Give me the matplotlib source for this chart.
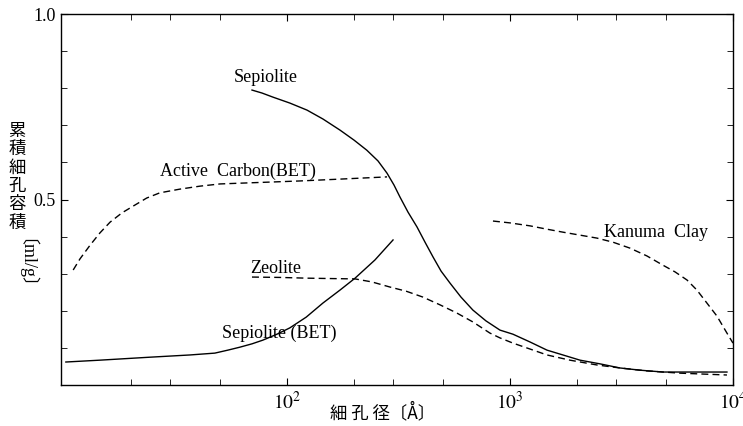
import numpy as np
import matplotlib.pyplot as plt
from matplotlib.ticker import FixedLocator, NullFormatter

plt.rcParams['font.family'] = ['Liberation Serif', 'Noto Sans CJK JP']
plt.rcParams['mathtext.fontset'] = 'stix'

# pore diameter (A) / cumulative pore volume (ml/g)
sep_x = [69.7, 77.3, 86.5, 103, 123, 145, 173, 200, 228, 256, 281, 302, 321, 349, 383, 416, 452,
         491, 538, 603, 682, 780, 902, 1031, 1230, 1466, 1728, 2061, 2535, 3112, 3828, 4853, 7110, 9397]
sep_y = [0.795, 0.787, 0.776, 0.760, 0.741, 0.717, 0.687, 0.660, 0.633, 0.604, 0.571, 0.539, 0.507,
         0.466, 0.426, 0.385, 0.345, 0.307, 0.275, 0.237, 0.202, 0.173, 0.148, 0.137, 0.116, 0.094,
         0.081, 0.067, 0.057, 0.046, 0.040, 0.035, 0.035, 0.035]

ac_x = [11.0, 11.8, 13.1, 14.5, 16.1, 18.2, 20.8, 23.5, 26.9, 33.1, 40.7, 50.1, 61.5, 84.0, 114, 173, 281]
ac_y = [0.310, 0.340, 0.377, 0.410, 0.439, 0.464, 0.485, 0.504, 0.518, 0.528, 0.536, 0.542, 0.544,
        0.547, 0.550, 0.555, 0.561]

zeo_x = [69.7, 93.0, 123, 156, 202, 240, 290, 342, 407, 486, 578, 682, 813, 902, 1031, 1230, 1466,
         1858, 2455, 3112, 4110, 5781, 9397]
zeo_y = [0.291, 0.290, 0.288, 0.287, 0.286, 0.278, 0.264, 0.253, 0.237, 0.216, 0.194, 0.170, 0.140,
         0.127, 0.113, 0.097, 0.081, 0.067, 0.054, 0.046, 0.038, 0.032, 0.027]

sbet_x = [10.2, 14.5, 24.3, 36.7, 47.5, 54.3, 61.5, 69.7, 78.0, 90.2, 103, 122, 145, 173, 202, 248, 299]
sbet_y = [0.062, 0.067, 0.075, 0.081, 0.086, 0.094, 0.102, 0.111, 0.121, 0.137, 0.154, 0.183, 0.221,
          0.256, 0.288, 0.337, 0.391]

kan_x = [839, 1000, 1230, 1466, 1728, 2061, 2455, 2897, 3451, 4110, 4853, 5495, 6223, 6890, 7640,
         8470, 9397, 10000]
kan_y = [0.442, 0.437, 0.429, 0.420, 0.412, 0.404, 0.396, 0.385, 0.369, 0.348, 0.323, 0.305, 0.283,
         0.256, 0.221, 0.186, 0.140, 0.113]

fig = plt.figure(figsize=(7.43, 4.26), dpi=100)
ax = fig.add_axes([0.0821, 0.0962, 0.9044, 0.8709])

ax.plot(sep_x, sep_y, 'k-', lw=1.0)
ax.plot(ac_x, ac_y, 'k--', lw=1.0, dashes=(5, 3))
ax.plot(zeo_x, zeo_y, 'k--', lw=1.0, dashes=(5, 3))
ax.plot(sbet_x, sbet_y, 'k-', lw=1.0)
ax.plot(kan_x, kan_y, 'k--', lw=1.0, dashes=(5, 3))

ax.set_xscale('log')
ax.set_xlim(9.7, 1e4)
ax.set_ylim(0, 1.0)

ax.xaxis.set_major_locator(FixedLocator([100, 1000, 10000]))
ax.set_xticklabels(['$10^2$', '$10^3$', '$10^4$'])
ax.xaxis.set_minor_locator(FixedLocator([20, 30, 50, 200, 300, 500, 2000, 3000, 5000]))
ax.xaxis.set_minor_formatter(NullFormatter())
ax.yaxis.set_major_locator(FixedLocator([0.5, 1.0]))
ax.set_yticklabels(['0.5', '1.0'])
ax.yaxis.set_minor_locator(FixedLocator([0.1, 0.2, 0.3, 0.4, 0.6, 0.7, 0.8, 0.9]))

ax.tick_params(which='both', direction='in', top=True, right=True, labelsize=13, pad=4)
ax.tick_params(axis='x', which='major', labelsize=14)
ax.tick_params(which='major', length=5)
ax.tick_params(which='minor', length=4)
for s in ax.spines.values():
    s.set_linewidth(1.0)

lab = dict(fontsize=13, ha='left', va='center')
ax.text(0.257, 0.830, 'Sepiolite', transform=ax.transAxes, **lab)
ax.text(0.147, 0.577, 'Active  Carbon(BET)', transform=ax.transAxes, **lab)
ax.text(0.281, 0.315, 'Zeolite', transform=ax.transAxes, **lab)
ax.text(0.240, 0.140, 'Sepiolite (BET)', transform=ax.transAxes, **lab)
ax.text(0.808, 0.412, 'Kanuma  Clay', transform=ax.transAxes, **lab)

fig.text(0.023, 0.585, '累\n積\n細\n孔\n容\n積', fontsize=12.5, ha='center', va='center',
         family=['Noto Sans CJK JP'], linespacing=1.02)
fig.text(0.023, 0.36, '〔ml/g〕', fontsize=13, ha='center', va='center', rotation=270,
         family=['Liberation Serif', 'Noto Sans CJK JP'])
fig.text(0.515, 0.032, '細 孔 径〔Å〕', fontsize=12.5, ha='center', va='center',
         family=['Noto Sans CJK JP', 'Liberation Serif'])

fig.savefig('out.png', dpi=100)
